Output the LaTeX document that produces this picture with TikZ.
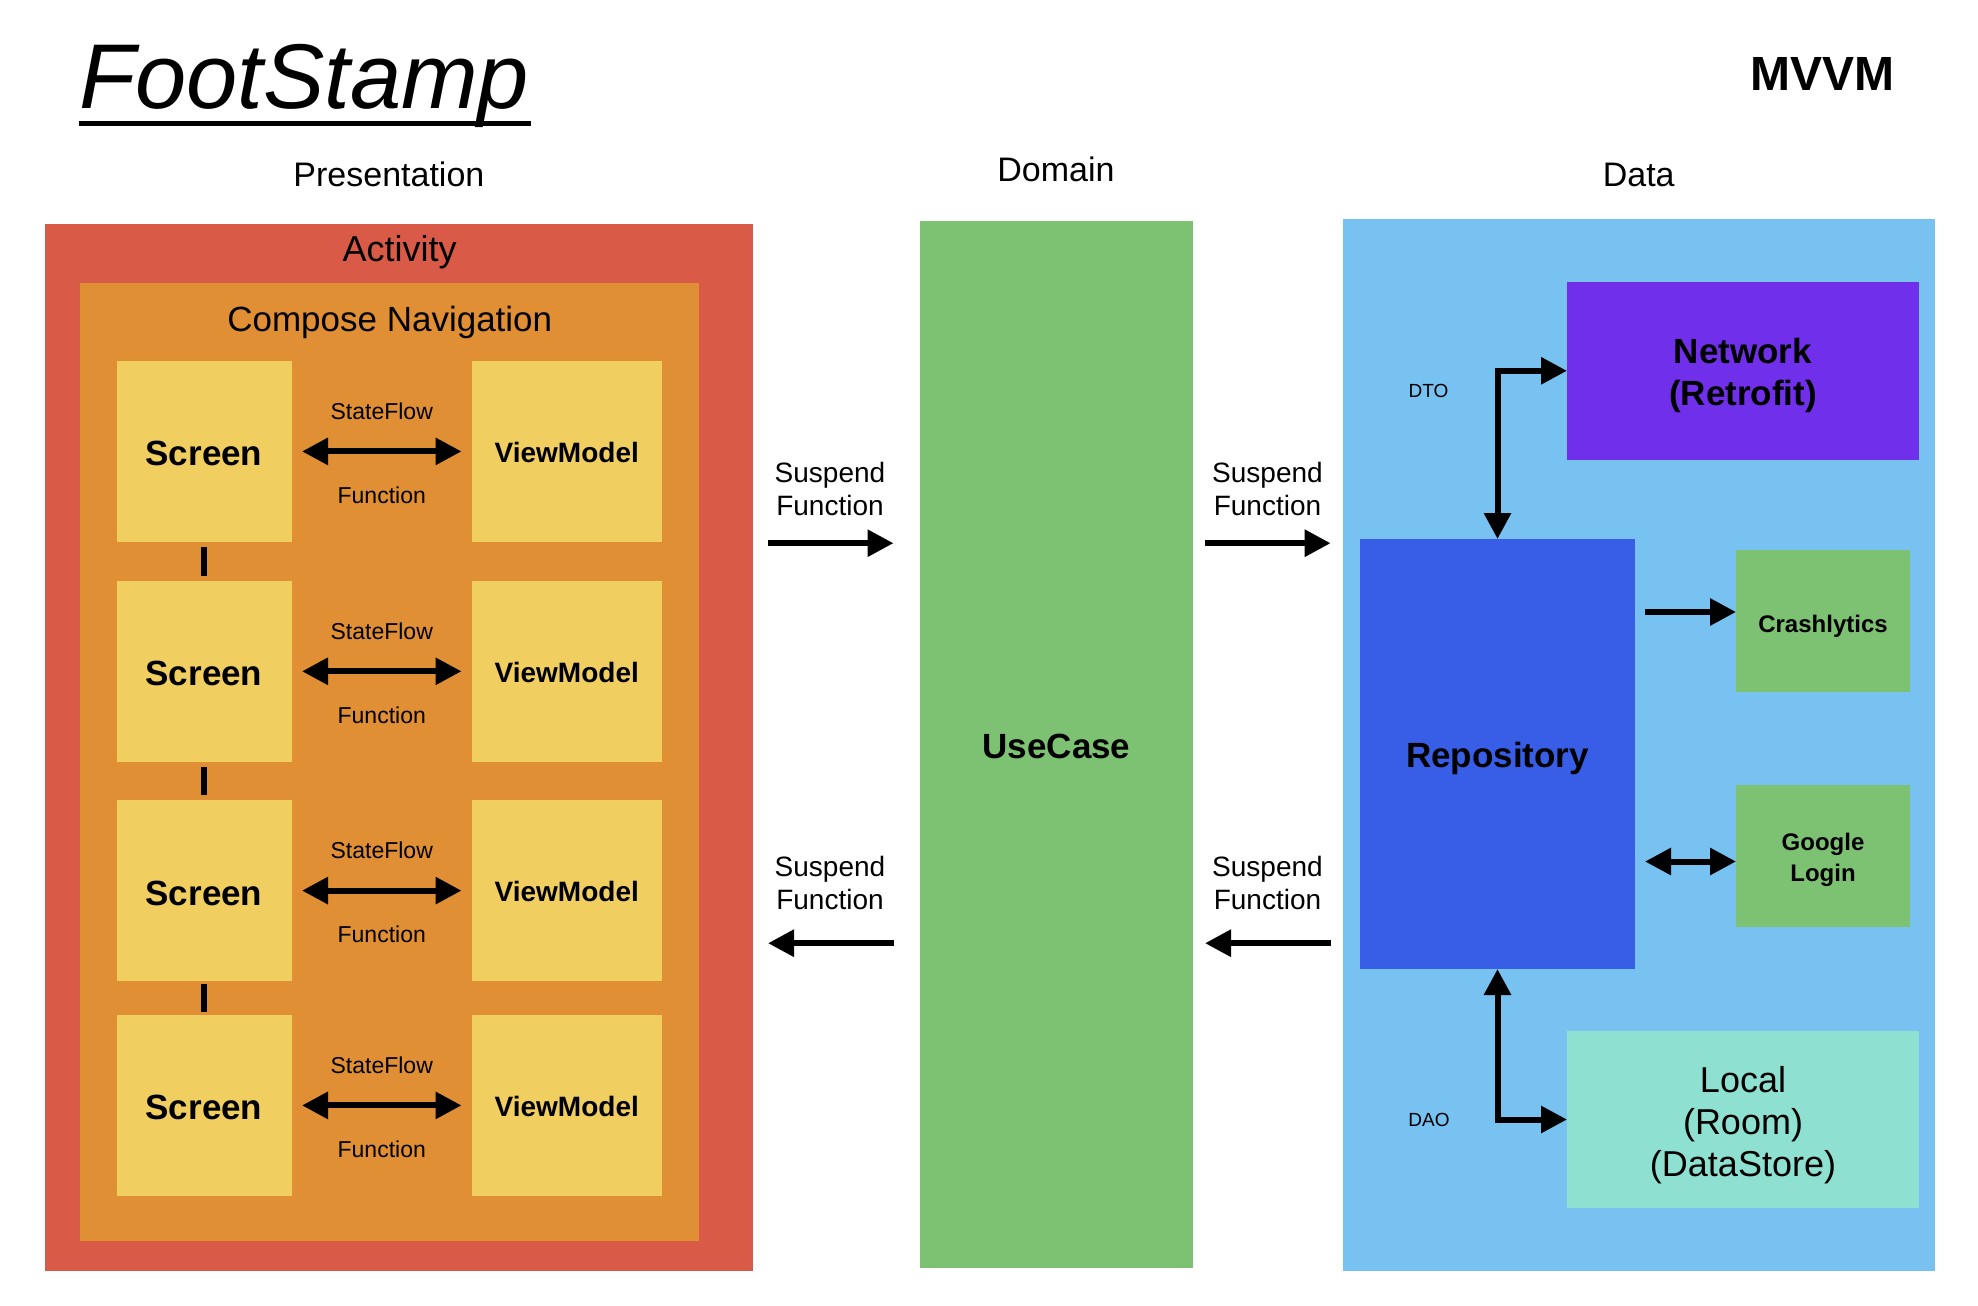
\documentclass[tikz,border=0pt]{standalone}
\usepackage{fontspec}
\setmainfont{Liberation Sans}
\usetikzlibrary{arrows.meta}
\definecolor{actred}{HTML}{DA5A48}
\definecolor{navorange}{HTML}{E08F34}
\definecolor{scryellow}{HTML}{F0CE60}
\definecolor{ucgreen}{HTML}{7DC273}
\definecolor{datablue}{HTML}{77C2F0}
\definecolor{netpurple}{HTML}{7030EB}
\definecolor{repblue}{HTML}{385EE8}
\definecolor{localteal}{HTML}{8EE1D0}
\begin{document}
\begin{tikzpicture}[x=1pt,y=-1pt,
  box/.style={draw=none, inner sep=0pt, outer sep=0pt, align=center},
  txt/.style={inner sep=0pt, outer sep=0pt, align=center},
  hdr/.style={txt, font=\fontsize{34}{40}\selectfont},
  bigb/.style={txt, font=\fontsize{35}{42}\selectfont\bfseries},
  vmfont/.style={txt, font=\fontsize{28}{34}\selectfont\bfseries},
  scrfont/.style={txt, font=\fontsize{35}{42}\selectfont\bfseries},
  sflab/.style={txt, font=\fontsize{23}{28}\selectfont},
  susp/.style={txt, font=\fontsize{28}{33}\selectfont},
  smallb/.style={txt, font=\fontsize{24}{31}\selectfont\bfseries},
  tinylab/.style={txt, font=\fontsize{19}{22}\selectfont},
  dbl/.style={line width=6pt, {Triangle[length=26pt,width=26pt]}-{Triangle[length=26pt,width=26pt]}},
  one/.style={line width=6pt, -{Triangle[length=26pt,width=26pt]}},
  conn/.style={line width=6pt, shorten <=5pt, shorten >=5pt},
  scr/.style={box, fill=scryellow, minimum width=175pt, minimum height=180.5pt},
  vmbox/.style={box, fill=scryellow, minimum width=189.5pt, minimum height=180.5pt}
]
\fill[white] (0,0) rectangle (1978,1306);
\useasboundingbox (0,0) rectangle (1978,1306);

% titles
\node[txt, anchor=base west, font=\fontsize{92}{100}\selectfont\itshape] (title) at (79,108.3) {FootStamp};
\draw[line width=5pt] ([yshift=-15pt]title.base west) -- ([yshift=-15pt,xshift=2pt]title.base east);
\node[txt, anchor=base, font=\fontsize{48}{56}\selectfont\bfseries] (mvvm) at (1822.6,90.7) {MVVM};
\node[hdr, anchor=base] (hpres) at (388.9,186) {Presentation};
\node[hdr, anchor=base] (hdom) at (1056,181) {Domain};
\node[hdr, anchor=base] (hdata) at (1638.7,186) {Data};

% presentation
\node[box, fill=actred, minimum width=708pt, minimum height=1046.7pt] (act) at (399,747.35) {};
\node[hdr, anchor=base, font=\fontsize{36}{42}\selectfont] (actlab) at (399.7,261.7) {Activity};
\node[box, fill=navorange, minimum width=618.5pt, minimum height=957.7pt] (nav) at (389.25,762.15) {};
\node[hdr, anchor=base, font=\fontsize{35}{42}\selectfont] (navlab) at (389.8,331) {Compose Navigation};

\foreach \i/\y in {1/451.4,2/671.3,3/890.6,4/1105.4}{
  \node[scr] (s\i) at (204,\y) {};
  \node[scrfont] (s\i t) at ([yshift=-2.5pt]s\i.center) {Screen};
  \node[vmbox] (v\i) at (566.75,\y) {};
  \node[vmfont] (v\i t) at ([yshift=-1.2pt]v\i.center) {ViewModel};
}

\foreach \i in {1,2,3,4}{
  \draw[dbl, shorten <=10.5pt, shorten >=10.5pt] (s\i) -- node[sflab, midway, yshift=40pt] {StateFlow} node[sflab, midway, yshift=-43.5pt] {Function} (v\i);
}
\draw[conn] (s1.south) -- (s2.north);
\draw[conn] (s2.south) -- (s3.north);
\draw[conn, shorten <=3pt, shorten >=3pt] (s3.south) -- (s4.north);

% domain
\node[box, fill=ucgreen, minimum width=273pt, minimum height=1047pt] (uc) at (1056.5,744.3) {};
\node[scrfont] (uct) at ([yshift=-2.5pt]uc.center) {UseCase};

% data
\node[box, fill=datablue, minimum width=592pt, minimum height=1051.7pt] (data) at (1639,744.85) {};
\node[box, fill=netpurple, minimum width=352pt, minimum height=177.6pt] (net) at (1743,370.8) {};
\node[bigb] (nett) at ([yshift=-5pt]net.center) {Network\\(Retrofit)};
\node[box, fill=repblue, minimum width=275pt, minimum height=430pt] (rep) at (1497.5,754) {};
\node[bigb] (rept) at ([yshift=-4pt]rep.center) {Repository};
\node[box, fill=ucgreen, minimum width=174pt, minimum height=142pt] (crash) at (1823,621) {};
\node[smallb] (crasht) at ([yshift=-5pt]crash.center) {Crashlytics};
\node[box, fill=ucgreen, minimum width=174pt, minimum height=142pt] (google) at (1823,855.5) {};
\node[smallb] (googlet) at ([yshift=-4.5pt]google.center) {Google\\Login};
\node[box, fill=localteal, minimum width=352pt, minimum height=177pt] (local) at (1743,1119.5) {};
\node[txt, font=\fontsize{36}{42}\selectfont] (localt) at ([yshift=-5.5pt]local.center) {Local\\(Room)\\(DataStore)};
\node[tinylab] (dto) at (1428.6,390.6) {DTO};
\node[tinylab] (dao) at (1429,1120) {DAO};

\draw[dbl] (rep.north) |- (net.west);
\draw[dbl] (rep.south) |- (local.west);
\draw[one, shorten <=10pt] ([yshift=9pt]crash.west -| rep.east) -- ([yshift=9pt]crash.west);
\draw[dbl, shorten <=10pt] ([yshift=-6pt]google.west -| rep.east) -- ([yshift=-6pt]google.west);

% suspend function arrows
\coordinate (yU) at (0,543.2);
\coordinate (yL) at (0,943.2);
\draw[one, shorten <=15pt, shorten >=26.5pt] (act.east |- yU) -- (uc.west |- yU);
\draw[one, shorten <=26.5pt, shorten >=15pt] (uc.west |- yL) -- (act.east |- yL);
\draw[one, shorten <=12pt, shorten >=12.4pt] (uc.east |- yU) -- (data.west |- yU);
\draw[one, shorten <=12.4pt, shorten >=12pt] (data.west |- yL) -- (uc.east |- yL);
\node[susp] (l1) at (830,488.5) {Suspend\\Function};
\node[susp] (l2) at (1267.5,488.5) {Suspend\\Function};
\node[susp] (l3) at (830,882.5) {Suspend\\Function};
\node[susp] (l4) at (1267.5,882.5) {Suspend\\Function};
\end{tikzpicture}
\end{document}
